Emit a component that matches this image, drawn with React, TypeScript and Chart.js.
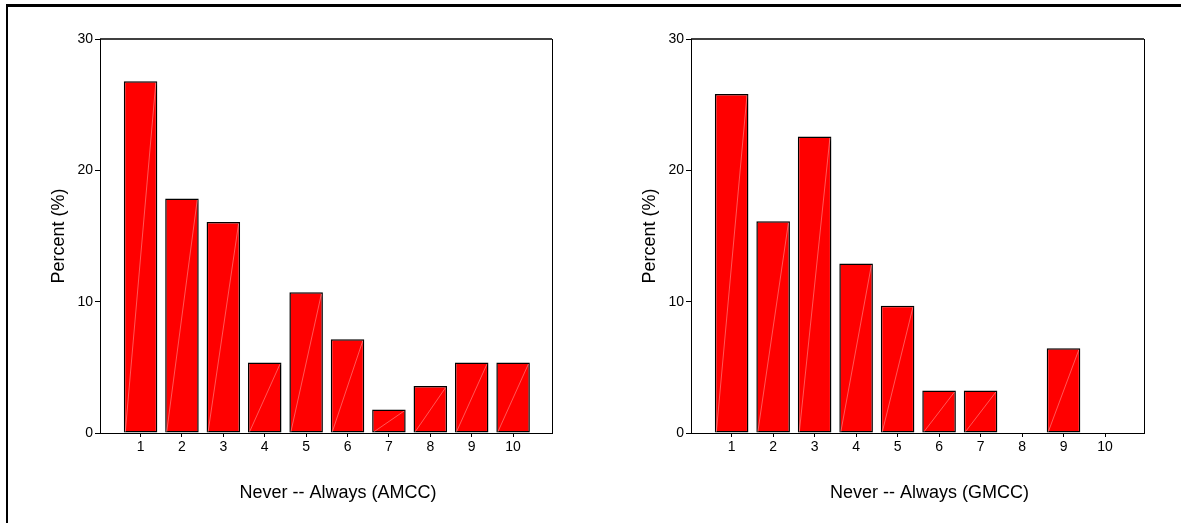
import React, { useEffect, useRef } from 'react';
import { Chart, registerables } from 'chart.js';

Chart.register(...registerables);

// ---- data ----
const categories = [1, 2, 3, 4, 5, 6, 7, 8, 9, 10];
const amccPercent = [26.79, 17.86, 16.07, 5.36, 10.71, 7.14, 1.79, 3.57, 5.36, 5.36];
const gmccPercent = [25.81, 16.13, 22.58, 12.9, 9.68, 3.23, 3.23, 0, 6.45, 0];
const yTicks = [0, 10, 20, 30];
const yAxisTitle = 'Percent (%)';
const xTitleAmcc = 'Never -- Always (AMCC)';
const xTitleGmcc = 'Never -- Always (GMCC)';

const FONT = '"Liberation Sans", Arial, sans-serif';

type PanelProps = {
  values: number[];
  xTitle: string;
  left: number;
  width: number;
  axisWidth: number;
  padRight: number;
};

function BarPanel({ values, xTitle, left, width, axisWidth, padRight }: PanelProps) {
  const ref = useRef<HTMLCanvasElement>(null);

  useEffect(() => {
    if (!ref.current) return;

    const decor = {
      id: 'panelDecor',
      afterDatasetsDraw(chart: any) {
        const { ctx } = chart;
        const meta = chart.getDatasetMeta(0);
        ctx.save();
        ctx.strokeStyle = 'rgba(255,200,200,0.55)';
        ctx.lineWidth = 0.8;
        meta.data.forEach((el: any) => {
          const p = el.getProps(['x', 'y', 'base', 'width'], true);
          if (p.base - p.y < 2) return;
          ctx.beginPath();
          ctx.moveTo(p.x - p.width / 2 + 1.5, p.base - 0.5);
          ctx.lineTo(p.x + p.width / 2 - 1.5, p.y + 1.5);
          ctx.stroke();
        });
        ctx.restore();
      },
      afterDraw(chart: any) {
        const { ctx, chartArea } = chart;
        const { left: l, right: r, top: t, bottom: b } = chartArea;
        ctx.save();
        ctx.strokeStyle = '#000';
        // top border of the plot box
        ctx.lineWidth = 1.4;
        ctx.beginPath();
        ctx.moveTo(l, t);
        ctx.lineTo(r, t);
        ctx.stroke();
        // right border of the plot box
        ctx.lineWidth = 1;
        ctx.beginPath();
        ctx.moveTo(Math.round(r) + 0.5, t);
        ctx.lineTo(Math.round(r) + 0.5, b + 0.5);
        ctx.stroke();
        // axis titles
        ctx.fillStyle = '#000';
        ctx.font = `18px ${FONT}`;
        ctx.textAlign = 'center';
        ctx.textBaseline = 'alphabetic';
        ctx.fillText(xTitle, (l + r) / 2 + 12, b + 65);
        ctx.translate(l - 36.5, (t + b) / 2);
        ctx.rotate(-Math.PI / 2);
        ctx.fillText(yAxisTitle, 0, 0);
        ctx.restore();
      },
    };

    const chart = new Chart(ref.current, {
      type: 'bar',
      data: {
        datasets: [
          {
            data: categories.map((c, i) => ({ x: c, y: values[i] })),
            backgroundColor: '#ff0000',
            borderColor: '#000',
            borderWidth: 1.5,
            borderSkipped: false,
            barPercentage: 0.81,
            categoryPercentage: 1,
          },
        ],
      },
      options: {
        animation: false,
        responsive: true,
        maintainAspectRatio: false,
        layout: { padding: { top: 39, right: padRight, bottom: 0, left: 0 } },
        plugins: { legend: { display: false }, tooltip: { enabled: false } },
        scales: {
          x: {
            type: 'linear',
            min: 0.02,
            max: 10.94,
            offset: false,
            afterBuildTicks: (s: any) => {
              s.ticks = categories.map((v) => ({ value: v }));
            },
            afterFit: (s: any) => {
              s.height = 90;
            },
            grid: {
              offset: false,
              drawOnChartArea: false,
              drawTicks: true,
              tickLength: 4,
              color: '#000',
              lineWidth: 1,
            },
            border: { display: true, color: '#000', width: 1 },
            ticks: {
              autoSkip: false,
              maxRotation: 0,
              padding: 2,
              color: '#000',
              font: { family: FONT, size: 14 },
              callback: (v: any) => String(v),
            },
          },
          y: {
            type: 'linear',
            min: 0,
            max: 30,
            afterBuildTicks: (s: any) => {
              s.ticks = yTicks.map((v) => ({ value: v }));
            },
            afterFit: (s: any) => {
              s.width = axisWidth;
            },
            grid: {
              drawOnChartArea: false,
              drawTicks: true,
              tickLength: 5,
              color: '#000',
              lineWidth: 1,
            },
            border: { display: true, color: '#000', width: 1 },
            ticks: {
              padding: 2,
              color: '#000',
              font: { family: FONT, size: 14 },
              callback: (v: any) => String(v),
            },
          },
        },
      } as any,
      plugins: [decor],
    });

    return () => chart.destroy();
  }, [values, xTitle, axisWidth, padRight]);

  return (
    <div style={{ position: 'absolute', left, top: 0, width, height: 523 }}>
      <canvas ref={ref} style={{ display: 'block' }} />
    </div>
  );
}

export default function App() {
  return (
    <div
      style={{
        position: 'fixed',
        left: 0,
        top: 0,
        width: 1181,
        height: 523,
        background: '#fff',
        overflow: 'hidden',
      }}
    >
      <div
        style={{
          position: 'absolute',
          left: 6,
          top: 4,
          width: 1200,
          height: 540,
          borderLeft: '2px solid #000',
          borderTop: '3px solid #000',
        }}
      />
      <BarPanel values={amccPercent} xTitle={xTitleAmcc} left={0} width={590} axisWidth={100} padRight={38} />
      <BarPanel values={gmccPercent} xTitle={xTitleGmcc} left={590} width={591} axisWidth={101} padRight={37} />
    </div>
  );
}
